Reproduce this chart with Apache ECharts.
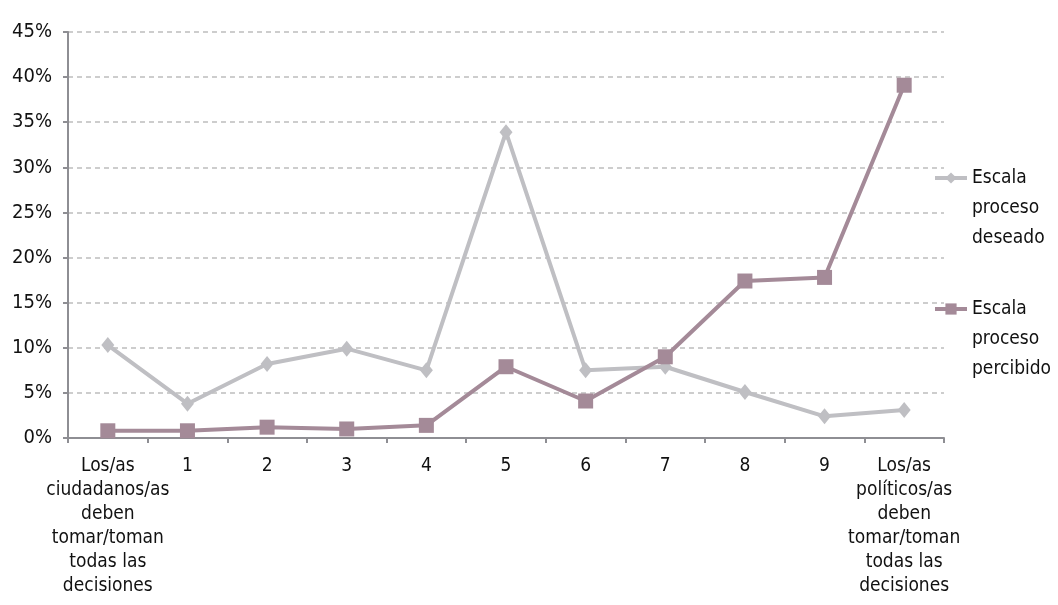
<!DOCTYPE html>
<html>
<head>
<meta charset="utf-8">
<script src="https://cdn.jsdelivr.net/npm/echarts@6/dist/echarts.min.js"></script>
<style>
    html, body { margin: 0; padding: 0; background: #fff; }
    #chart { width: 1058px; height: 605px; }
</style>
</head>
<body>
<div id="chart"></div>
<script>
// categorías del eje X
const categorias = [
    'Los/as\nciudadanos/as\ndeben\ntomar/toman\ntodas las\ndecisiones',
    '1', '2', '3', '4', '5', '6', '7', '8', '9',
    'Los/as\npolíticos/as\ndeben\ntomar/toman\ntodas las\ndecisiones'
];

// valores (%)
const deseado = [10.3, 3.8, 8.2, 9.9, 7.5, 33.9, 7.5, 7.9, 5.1, 2.4, 3.1];
const percibido = [0.8, 0.8, 1.2, 1.0, 1.4, 7.9, 4.1, 9.0, 17.4, 17.8, 39.1];

const nombreDeseado = 'Escala\nproceso\ndeseado';
const nombrePercibido = 'Escala\nproceso\npercibido';

const FONT = "'Liberation Sans Narrow', 'DejaVu Sans Condensed', sans-serif";
const GRIS = '#BFBFC3';
const MALVA = '#A48A98';
const EJE = '#8E8E93';

const chart = echarts.init(document.getElementById('chart'));

// leyenda: dos líneas vacías delante para que el icono quede a la altura de la primera línea
const legendText = {
    fontFamily: FONT,
    fontSize: 19,
    color: '#111',
    lineHeight: 30
};
const legendName = (name) => '\n\n' + name;

chart.setOption({
    animation: false,
    textStyle: { fontFamily: FONT },
    grid: {
        left: 68,
        right: 114,
        top: 32,
        bottom: 167
    },
    legend: [{
        data: [nombreDeseado],
        orient: 'vertical',
        left: 933,
        top: 103,
        padding: 0,
        itemWidth: 32,
        itemHeight: 14,
        formatter: legendName,
        lineStyle: { width: 4 },
        textStyle: legendText
    }, {
        data: [nombrePercibido],
        orient: 'vertical',
        left: 933,
        top: 234,
        padding: 0,
        itemWidth: 32,
        itemHeight: 14,
        formatter: legendName,
        lineStyle: { width: 4 },
        textStyle: legendText
    }],
    xAxis: {
        type: 'category',
        data: categorias,
        boundaryGap: true,
        axisLine: { lineStyle: { color: EJE, width: 2 } },
        axisTick: { show: true, length: 5, lineStyle: { color: EJE, width: 2 } },
        axisLabel: {
            interval: 0,
            color: '#111',
            fontSize: 19,
            lineHeight: 24,
            margin: 16,
            fontFamily: FONT
        }
    },
    yAxis: {
        type: 'value',
        min: 0,
        max: 45,
        interval: 5,
        axisLine: { show: true, lineStyle: { color: EJE, width: 2 } },
        axisTick: { show: true, length: 5, lineStyle: { color: EJE, width: 2 } },
        axisLabel: {
            formatter: '{value}%',
            color: '#111',
            fontSize: 20,
            margin: 16,
            fontFamily: FONT
        },
        splitLine: {
            lineStyle: { color: '#BDBDBD', type: [5, 4], width: 1.5 }
        }
    },
    series: [{
        name: nombreDeseado,
        type: 'line',
        data: deseado,
        symbol: 'diamond',
        symbolSize: [13, 16],
        lineStyle: { color: GRIS, width: 4 },
        itemStyle: { color: GRIS },
        z: 2
    }, {
        name: nombrePercibido,
        type: 'line',
        data: percibido,
        symbol: 'rect',
        symbolSize: 15,
        lineStyle: { color: MALVA, width: 4 },
        itemStyle: { color: MALVA },
        z: 3
    }]
});
</script>
</body>
</html>
